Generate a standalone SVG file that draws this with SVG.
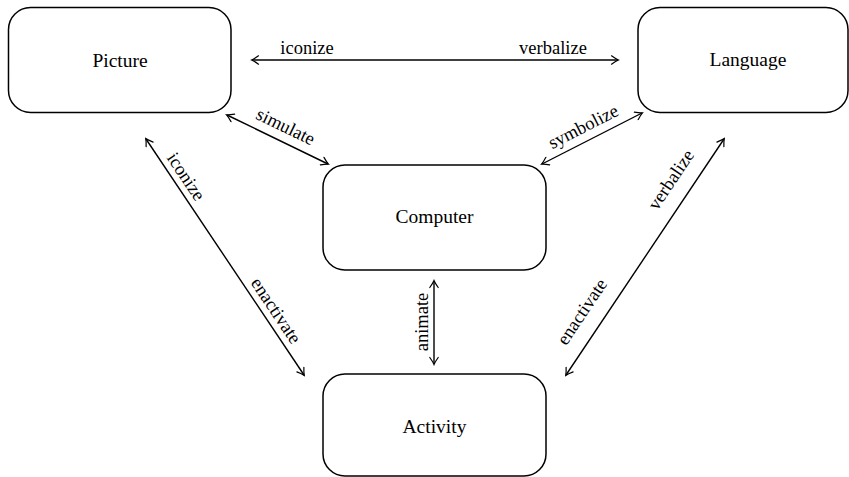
<svg xmlns="http://www.w3.org/2000/svg" width="849" height="477" viewBox="0 0 849 477">
<style>
.box{fill:#fff;stroke:#000;stroke-width:1.5}
.nt{font-family:"Liberation Serif","DejaVu Serif",serif;font-size:19.5px;fill:#000;text-anchor:middle}
.et{font-family:"Liberation Serif","DejaVu Serif",serif;font-size:18.5px;fill:#000;text-anchor:middle}
.edge{stroke:#000;stroke-width:1.4;fill:none;marker-start:url(#ah);marker-end:url(#ah)}
</style>
<defs>
<marker id="ah" viewBox="-8 -5 10 10" refX="0" refY="0" markerWidth="10" markerHeight="10" markerUnits="userSpaceOnUse" orient="auto-start-reverse">
<path d="M-6.5,-4.2 Q-2,-1 0.5,0 Q-2,1 -6.5,4.2" fill="none" stroke="#000" stroke-width="1.2" stroke-linecap="round"/>
</marker>
</defs>
<g id="picture"><rect class="box" x="8.5" y="7.5" width="222.5" height="105" rx="22"/><text class="nt" x="120" y="67">Picture</text></g>
<g id="language"><rect class="box" x="638" y="7.5" width="210" height="105" rx="22"/><text class="nt" x="748" y="66">Language</text></g>
<g id="computer"><rect class="box" x="323" y="165" width="223" height="105" rx="22"/><text class="nt" x="434.5" y="223">Computer</text></g>
<g id="activity"><rect class="box" x="323" y="374" width="223" height="102" rx="22"/><text class="nt" x="434.5" y="433">Activity</text></g>
<g id="connectors">
<line class="edge" x1="252" y1="60" x2="618" y2="60"/>
<text class="et" x="307" y="54">iconize</text>
<text class="et" x="553" y="54">verbalize</text>
<line class="edge" x1="227" y1="115" x2="328" y2="164"/>
<text class="et" transform="translate(283,132) rotate(25.9)">simulate</text>
<line class="edge" x1="542" y1="164" x2="642" y2="113"/>
<text class="et" transform="translate(586,132) rotate(-27)">symbolize</text>
<line class="edge" x1="146" y1="139" x2="304" y2="375"/>
<text class="et" transform="translate(181,180) rotate(56.2)">iconize</text>
<text class="et" transform="translate(271,314) rotate(56.2)">enactivate</text>
<line class="edge" x1="566" y1="375" x2="724" y2="139"/>
<text class="et" transform="translate(676,183) rotate(-56.2)">verbalize</text>
<text class="et" transform="translate(587,315) rotate(-56.2)">enactivate</text>
<line class="edge" x1="434" y1="281" x2="434" y2="364"/>
<text class="et" transform="translate(428,322) rotate(-90)">animate</text>
</g>
</svg>
